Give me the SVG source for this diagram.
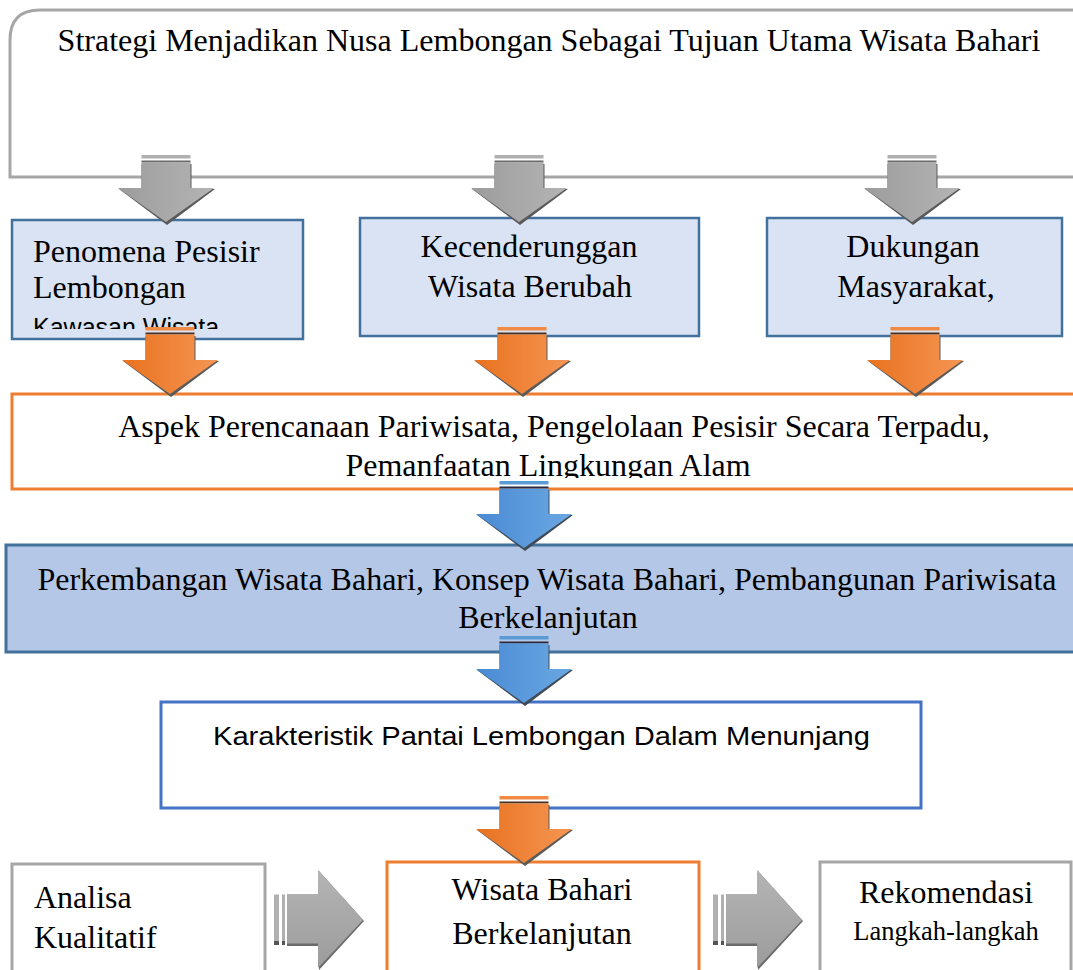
<svg xmlns="http://www.w3.org/2000/svg" width="1073" height="970" viewBox="0 0 1073 970">
<style>
.serif{font-family:"Liberation Serif","Times New Roman",serif;font-size:32px;fill:#000}
.sans{font-family:"Liberation Sans",Arial,sans-serif;font-size:25px;fill:#000}
.mid{text-anchor:middle}
.gray{fill:none;stroke:#a6a6a6;stroke-width:3}
.orange{stroke:#ed7d31;stroke-width:3}
</style>
<defs>
<linearGradient id="gGray" x1="0" y1="0" x2="1" y2="0"><stop offset="0" stop-color="#9c9c9c"/><stop offset="1" stop-color="#b4b4b4"/></linearGradient>
<linearGradient id="gOrange" x1="0" y1="0" x2="1" y2="0"><stop offset="0" stop-color="#e8721f"/><stop offset="1" stop-color="#f59553"/></linearGradient>
<linearGradient id="gBlue" x1="0" y1="0" x2="1" y2="0"><stop offset="0" stop-color="#4a8ad4"/><stop offset="1" stop-color="#6aa8e2"/></linearGradient>
<linearGradient id="gGrayV" x1="0" y1="0" x2="0" y2="1"><stop offset="0" stop-color="#b4b4b4"/><stop offset="1" stop-color="#9c9c9c"/></linearGradient>
<g id="downGray">
<path d="M-24.5,-24 H25.5 V1 H49 L1,37 L-47,1 H-24.5 Z" fill="#5a5a5a"/>
<rect x="-24.5" y="-33" width="49" height="3.5" fill="#b0b0b0"/>
<rect x="-24.5" y="-27.5" width="49" height="2" fill="#6a6a6a"/>
<path d="M-24.5,-25.5 H24.5 V0 H48 L0,34 L-48,0 H-24.5 Z" fill="url(#gGray)"/>
</g>
<g id="downOrange">
<path d="M-24.5,-24 H25.5 V1 H49 L1,37 L-47,1 H-24.5 Z" fill="#5a5a5a"/>
<rect x="-24.5" y="-33" width="49" height="3.5" fill="#f08a45"/>
<rect x="-24.5" y="-27.5" width="49" height="2" fill="#4a3020"/>
<path d="M-24.5,-25.5 H24.5 V0 H48 L0,34 L-48,0 H-24.5 Z" fill="url(#gOrange)"/>
</g>
<g id="downBlue">
<path d="M-24.5,-24 H25.5 V1 H49 L1,37 L-47,1 H-24.5 Z" fill="#404a55"/>
<rect x="-24.5" y="-33" width="49" height="3.5" fill="#5b9bd5"/>
<rect x="-24.5" y="-27.5" width="49" height="2" fill="#2a2a3a"/>
<path d="M-24.5,-25.5 H24.5 V0 H48 L0,34 L-48,0 H-24.5 Z" fill="url(#gBlue)"/>
</g>
<g id="rightGray">
<path d="M-31,-24.5 H1 V-48 L46,2 L1,51 V27 H-31 Z" fill="#6a6a6a"/>
<rect x="-44" y="-24.5" width="5" height="49" fill="#b0b0b0"/>
<rect x="-36" y="-24.5" width="3" height="49" fill="#b0b0b0"/>
<rect x="-44" y="22" width="5" height="4" fill="#555"/>
<rect x="-36" y="22" width="3" height="4" fill="#555"/>
<path d="M-31,-24.5 H0 V-49 L45,1 L0,49 V24.5 H-31 Z" fill="url(#gGrayV)"/>
</g>
<clipPath id="clipA"><rect x="12" y="220" width="291" height="109"/></clipPath>
<clipPath id="clipAspek"><rect x="12" y="395" width="1070" height="83"/></clipPath>
</defs>

<g id="node-title">
<path class="gray" d="M10,177 V40 Q10,10 40,10 H1090 V177 Z"/>
<text class="serif mid" x="549" y="51">Strategi Menjadikan Nusa Lembongan Sebagai Tujuan Utama Wisata Bahari</text>
</g>

<g id="node-penomena">
<rect x="12" y="220" width="291" height="119" fill="#dae3f3" stroke="#41719c" stroke-width="2.5"/>
<g clip-path="url(#clipA)">
<text class="serif" x="33" y="262">Penomena Pesisir</text>
<text class="serif" x="33" y="298">Lembongan</text>
<text class="sans" x="33" y="336">Kawasan Wisata</text>
</g>
</g>

<g id="node-kecenderungan">
<rect x="360" y="218" width="339" height="118" fill="#dae3f3" stroke="#41719c" stroke-width="2.5"/>
<text class="serif mid" x="529" y="257">Kecenderunggan</text>
<text class="serif mid" x="530" y="297">Wisata Berubah</text>
</g>

<g id="node-dukungan">
<rect x="767" y="218" width="295" height="118" fill="#dae3f3" stroke="#41719c" stroke-width="2.5"/>
<text class="serif mid" x="913" y="257">Dukungan</text>
<text class="serif mid" x="916" y="297">Masyarakat,</text>
</g>

<g id="node-aspek">
<rect x="12" y="394" width="1080" height="95" fill="#fff" class="orange"/>
<g clip-path="url(#clipAspek)">
<text class="serif mid" x="554" y="437">Aspek Perencanaan Pariwisata, Pengelolaan Pesisir Secara Terpadu,</text>
<text class="serif mid" x="548" y="476">Pemanfaatan Lingkungan Alam</text>
</g>
</g>

<g id="node-perkembangan">
<rect x="6" y="545" width="1090" height="107" fill="#b4c7e7" stroke="#41719c" stroke-width="3"/>
<text class="serif mid" x="547" y="590">Perkembangan Wisata Bahari, Konsep Wisata Bahari, Pembangunan Pariwisata</text>
<text class="serif mid" x="548" y="628">Berkelanjutan</text>
</g>

<g id="node-karakteristik">
<rect x="161" y="702" width="760" height="106" fill="#fff" stroke="#4472c4" stroke-width="3"/>
<text class="sans" x="213" y="745" textLength="657" lengthAdjust="spacingAndGlyphs">Karakteristik Pantai Lembongan Dalam Menunjang</text>
</g>

<g id="node-analisa">
<rect x="12" y="864" width="253" height="130" class="gray"/>
<text class="serif" x="34" y="908">Analisa</text>
<text class="serif" x="34" y="948">Kualitatif</text>
</g>

<g id="node-wisata">
<rect x="387" y="862" width="312" height="130" fill="none" class="orange"/>
<text class="serif mid" x="542" y="900">Wisata Bahari</text>
<text class="serif mid" x="542" y="944">Berkelanjutan</text>
</g>

<g id="node-rekomendasi">
<rect x="820" y="862" width="251" height="130" class="gray"/>
<text class="serif mid" x="946" y="903">Rekomendasi</text>
<text class="serif mid" x="946" y="940" style="font-size:26.5px">Langkah-langkah</text>
</g>

<g id="connectors">
<use href="#downGray" transform="translate(166,188)"/>
<use href="#downGray" transform="translate(519,188)"/>
<use href="#downGray" transform="translate(912,188)"/>
<use href="#downOrange" transform="translate(170,360)"/>
<use href="#downOrange" transform="translate(522,360)"/>
<use href="#downOrange" transform="translate(915,360)"/>
<use href="#downBlue" transform="translate(524,514)"/>
<use href="#downBlue" transform="translate(524,669)"/>
<use href="#downOrange" transform="translate(524,829)"/>
<use href="#rightGray" transform="translate(318,919)"/>
<use href="#rightGray" transform="translate(757,919)"/>
</g>
</svg>
